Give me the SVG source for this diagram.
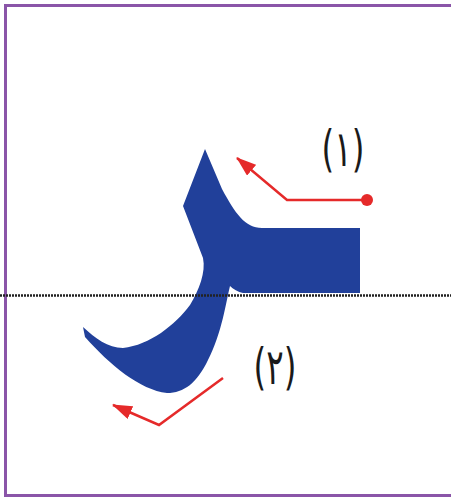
<svg xmlns="http://www.w3.org/2000/svg" width="451" height="498" viewBox="0 0 451 498">
<defs>
<style>
.red{stroke:#e52a2a;stroke-width:2.5;fill:none;stroke-linejoin:miter}
.lbl{font-family:"DejaVu Sans","Noto Sans",sans-serif;font-size:44px;fill:#1a1a1a;text-anchor:middle}
</style>
<marker id="ah" viewBox="0 0 20 14" refX="19" refY="7" markerWidth="20" markerHeight="14" markerUnits="userSpaceOnUse" orient="auto">
<path d="M0 0 L20 7 L0 14 Z" fill="#e52a2a"/>
</marker>
</defs>
<rect width="451" height="498" fill="#ffffff"/>
<rect id="frame" x="5.5" y="5.5" width="460" height="490" fill="none" stroke="#8a55a8" stroke-width="3"/>
<g id="letter">
<path d="M205 149 L222 189 C235 213 245 228 262 228 L360 228 L360 293 L243 293 C238 292 233 289 230 286 C226 302 222 333 208 360 C197 383 184 393 167 393 C140 390 110 365 85 337 L83 327 C95 338 108 348 123 348 C150 345 175 325 190 305 C199 290 206 272 203 258 L183 206 Z" fill="#21409a"/>
</g>
<line id="baseline" x1="0" y1="295.5" x2="451" y2="295.5" stroke="#222" stroke-width="2.5" stroke-dasharray="2 1"/>
<g id="connectors">
<circle cx="367" cy="200" r="6" fill="#e52a2a"/>
<polyline class="red" points="367,200 287,200 237,158" marker-end="url(#ah)"/>
<polyline class="red" points="223,378 159,425 113,405" marker-end="url(#ah)"/>
</g>
<g id="label1"><text class="lbl" transform="translate(343,166) scale(0.74,1.12)">(١)</text></g>
<g id="label2"><text class="lbl" transform="translate(275,384) scale(0.74,1.12)">(٢)</text></g>
</svg>
